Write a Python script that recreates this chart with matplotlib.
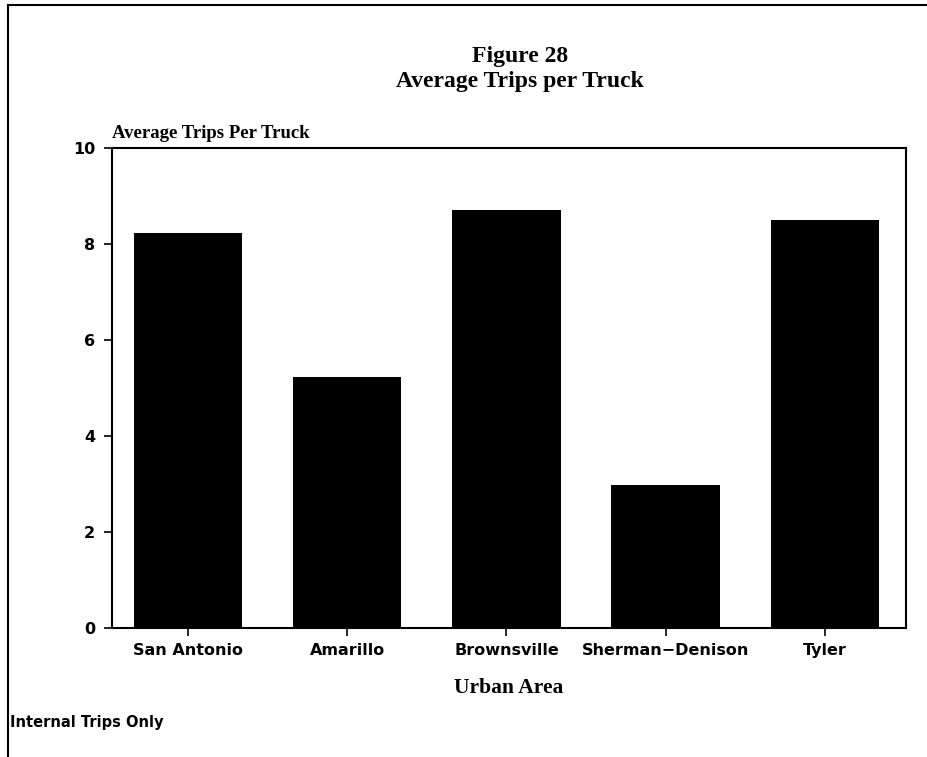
import matplotlib.pyplot as plt
from matplotlib.lines import Line2D

areas = ['San Antonio', 'Amarillo', 'Brownsville', 'Sherman\u2212Denison', 'Tyler']
trips = [8.23, 5.23, 8.71, 2.98, 8.5]
y_ticks = [0, 2, 4, 6, 8, 10]

serif = ['Liberation Serif', 'DejaVu Serif']
sans = ['DejaVu Sans']

fig = plt.figure(figsize=(9.28, 7.57), dpi=100)
ax = fig.add_axes([0.1207, 0.1704, 0.8556, 0.6341])

x = list(range(len(areas)))
ax.bar(x, trips, width=0.68, color='black')
ax.set_xlim(-0.477, 4.51)
ax.set_ylim(0, 10)
ax.set_yticks(y_ticks)
ax.set_xticks(x)
ax.set_xticklabels(areas, fontfamily=sans, fontweight='bold', fontsize=11.5)
ax.set_yticklabels([str(t) for t in y_ticks], fontfamily=sans, fontweight='bold', fontsize=11.5)
ax.tick_params(axis='both', direction='out', length=6, width=1.2, color='black', pad=6)
ax.tick_params(axis='x', pad=5)
for s in ax.spines.values():
    s.set_linewidth(1.5)

# y axis title sits above the plot, left aligned
ax.text(0.0, 1.012, 'Average Trips Per Truck', transform=ax.transAxes,
        ha='left', va='bottom', fontfamily=serif, fontweight='bold', fontsize=13.5)
ax.set_xlabel('Urban Area', fontfamily=serif, fontweight='bold', fontsize=15.5, labelpad=14)

fig.text(0.56, 0.926, 'Figure 28', ha='center', va='center',
         fontfamily=serif, fontweight='bold', fontsize=17)
fig.text(0.56, 0.892, 'Average Trips per Truck', ha='center', va='center',
         fontfamily=serif, fontweight='bold', fontsize=17)
fig.text(0.011, 0.045, 'Internal Trips Only', ha='left', va='center',
         fontfamily=sans, fontweight='bold', fontsize=10.5)

# scanned page frame: top and left edges
fig.add_artist(Line2D([0.009, 1.0], [0.994, 0.994], transform=fig.transFigure, color='black', lw=1.5))
fig.add_artist(Line2D([0.009, 0.009], [0.0, 0.994], transform=fig.transFigure, color='black', lw=1.5))

plt.savefig('out.png', dpi=100)
